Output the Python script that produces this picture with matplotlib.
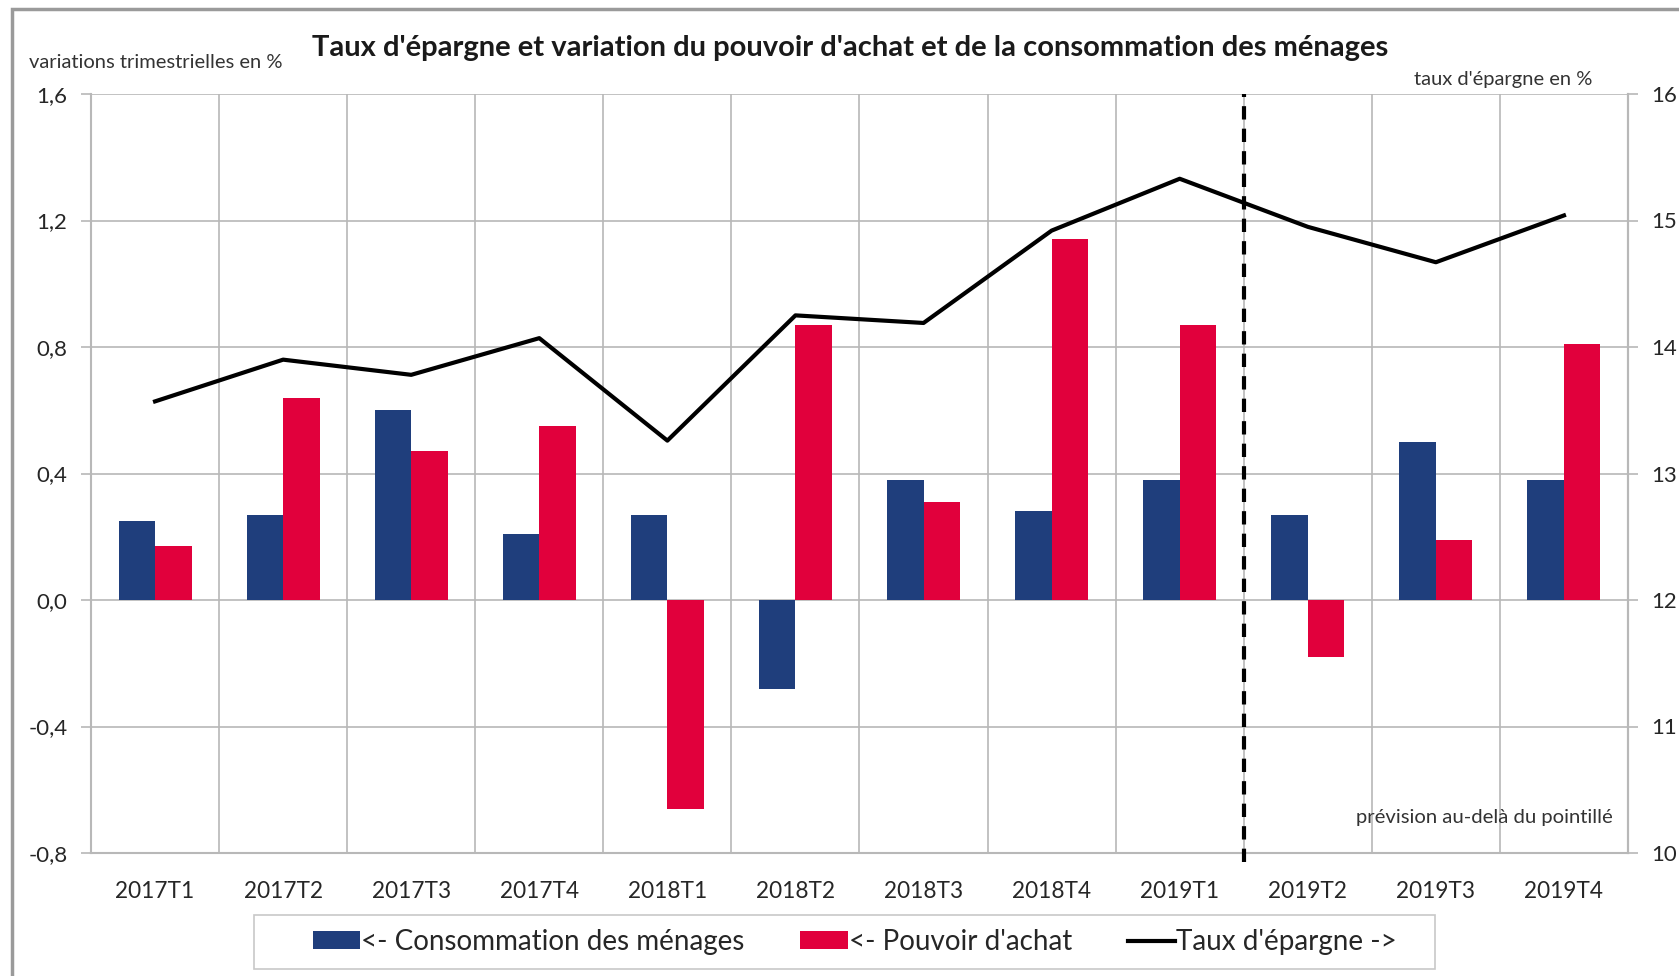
import matplotlib
matplotlib.use("Agg")
import matplotlib.pyplot as plt
from matplotlib.patches import Rectangle, Patch
from matplotlib.lines import Line2D
import numpy as np

plt.rcParams['font.family'] = ['Lato', 'DejaVu Sans']

categories = ["2017T1", "2017T2", "2017T3", "2017T4", "2018T1", "2018T2",
              "2018T3", "2018T4", "2019T1", "2019T2", "2019T3", "2019T4"]
consommation = [0.25, 0.27, 0.60, 0.21, 0.27, -0.28, 0.38, 0.28, 0.38, 0.27, 0.50, 0.38]
pouvoir_achat = [0.17, 0.64, 0.47, 0.55, -0.66, 0.87, 0.31, 1.14, 0.87, -0.18, 0.19, 0.81]
taux_epargne = [13.57, 13.90, 13.78, 14.07, 13.26, 14.25, 14.19, 14.92, 15.33, 14.95, 14.67, 15.04]
left_ticks = [-0.8, -0.4, 0.0, 0.4, 0.8, 1.2, 1.6]
left_ticklabels = ["-0,8", "-0,4", "0,0", "0,4", "0,8", "1,2", "1,6"]
right_ticks = [10, 11, 12, 13, 14, 15, 16]
forecast_boundary = 8.5

blue = "#1F3E7C"
red = "#E1003C"
grid_c = "#B8B8B8"

W, H = 1679, 976
fig = plt.figure(figsize=(16.79, 9.76), dpi=100)
# outer frame
fig.add_artist(Rectangle((12/W, -0.01), 1.02, (H-9)/H + 0.01, transform=fig.transFigure,
                         fill=False, edgecolor="#9A9A9A", linewidth=2.5))

ax = fig.add_axes([91/W, (H-853)/H, 1537/W, 759/H])
x = np.arange(len(categories))
w = 0.285
ax.bar(x - w/2, consommation, w, color=blue, zorder=3)
ax.bar(x + w/2, pouvoir_achat, w, color=red, zorder=3)
ax.set_xlim(-0.5, len(categories) - 0.5)
ax.set_ylim(-0.8, 1.6)
ax.set_yticks(left_ticks)
ax.set_yticklabels(left_ticklabels)
ax.set_xticks(x)
ax.set_xticklabels(categories)
ax.set_xticks(np.arange(len(categories) + 1) - 0.5, minor=True)
ax.grid(True, which="minor", axis="x", color=grid_c, linewidth=1.2, zorder=0)
ax.grid(True, which="major", axis="y", color=grid_c, linewidth=1.2, zorder=0)
ax.tick_params(axis="x", which="both", length=0, labelsize=16.3, pad=20, colors="#262626")
ax.tick_params(axis="y", length=7, width=1.2, color=grid_c, labelsize=16, pad=10, labelcolor="#262626")
ax.spines["top"].set_visible(False)
for s in ["left", "right", "bottom"]:
    ax.spines[s].set_color(grid_c)
    ax.spines[s].set_linewidth(1.5)

ax2 = ax.twinx()
ax2.plot(x, taux_epargne, color="black", linewidth=3, zorder=4)
ax2.set_ylim(10, 16)
ax2.set_yticks(right_ticks)
ax2.tick_params(axis="y", length=7, width=1.2, color=grid_c, labelsize=16, pad=10, labelcolor="#262626")
for s in ["top", "left", "bottom"]:
    ax2.spines[s].set_visible(False)
ax2.spines["right"].set_color(grid_c)
ax2.spines["right"].set_linewidth(1.5)

ax.axvline(forecast_boundary, ymin=-0.012, ymax=1, color="black", linewidth=3,
           linestyle=(0, (3.2, 2.2)), zorder=5, clip_on=False)

fig.text(850/W, 1 - 48/H, "Taux d'épargne et variation du pouvoir d'achat et de la consommation des ménages",
         ha="center", va="center", fontsize=21, fontweight="bold", color="#1a1a1a")
fig.text(29/W, 1 - 62/H, "variations trimestrielles en %", ha="left", va="center",
         fontsize=14.5, color="#333333")
fig.text(1592/W, 1 - 79/H, "taux d'épargne en %", ha="right", va="center",
         fontsize=14.5, color="#333333")
ax.text(0.99, 0.035, "prévision au-delà du pointillé", transform=ax.transAxes, ha="right",
        va="bottom", fontsize=14.6, color="#333333")

# legend frame
fig.add_artist(Rectangle((254/W, (H-969)/H), (1435-254)/W, 54/H, transform=fig.transFigure,
                         fill=True, facecolor="white", edgecolor="#C8C8C8", linewidth=1.2, zorder=1))
handles = [Patch(facecolor=blue, edgecolor="none"), Patch(facecolor=red, edgecolor="none"),
           Line2D([0], [0], color="black", linewidth=3)]
labels = ["<- Consommation des ménages", "<- Pouvoir d'achat", "Taux d'épargne ->"]
leg = fig.legend(handles, labels, loc="center", bbox_to_anchor=(855/W, 1 - 942/H),
                 ncol=3, fontsize=20, frameon=False,
                 handlelength=1.7, handletextpad=0.05, columnspacing=2.0,
                 borderpad=0.3, handleheight=0.6)
leg.set_zorder(2)
for t in leg.get_texts():
    t.set_color("#262626")

fig.savefig("out.png", dpi=100)
